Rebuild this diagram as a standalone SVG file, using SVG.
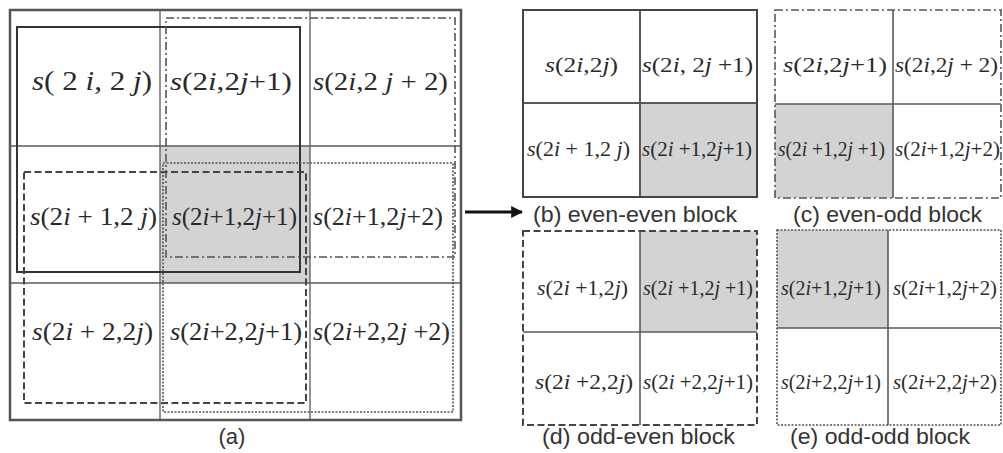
<svg xmlns="http://www.w3.org/2000/svg" width="1003" height="453" viewBox="0 0 1003 453">
<style>
.bg{fill:#ffffff}
.sh{fill:#d3d3d3}
.grid{stroke:#5a5a5a;stroke-width:1.3;fill:none}
.outer{stroke:#555;stroke-width:2.5;fill:none}
.solid{stroke:#333;stroke-width:2;fill:none}
.dash{stroke:#444;stroke-width:2;fill:none;stroke-dasharray:7 3.5}
.dashdot{stroke:#555;stroke-width:1.6;fill:none;stroke-dasharray:8 3 2 3}
.dot{stroke:#555;stroke-width:1.6;fill:none;stroke-dasharray:2 1.5}
.m{font-family:"Liberation Serif","Times New Roman",serif;fill:#2a2a2a}
.ma{font-size:25px}
.mb{font-size:20px}
.it{font-style:italic}
.cap{font-family:"Liberation Sans",Arial,sans-serif;font-size:22px;fill:#333}
</style>
<defs>
<marker id="ah" viewBox="0 0 10 10" refX="9" refY="5" markerWidth="4" markerHeight="4" orient="auto" markerUnits="strokeWidth">
<path d="M0,0 L10,5 L0,10 Z" fill="#111"/>
</marker>
</defs>
<rect class="bg" x="0" y="0" width="1003" height="453"/>

<g id="panel-a">
<rect class="sh" x="160" y="146" width="150" height="137"/>
<line class="grid" x1="160" y1="10" x2="160" y2="420"/>
<line class="grid" x1="310" y1="10" x2="310" y2="420"/>
<line class="grid" x1="10" y1="146" x2="461" y2="146"/>
<line class="grid" x1="10" y1="283" x2="461" y2="283"/>
<rect class="outer" x="10" y="10" width="451" height="410"/>
<rect class="solid" x="17" y="27" width="283" height="245"/>
<rect class="dashdot" x="166" y="18" width="289" height="239"/>
<rect class="dash" x="24" y="172" width="282" height="231"/>
<rect class="dot" x="163" y="163" width="290" height="249"/>
<g id="a-r0">
<text class="m ma" x="32" y="90" textLength="120" lengthAdjust="spacingAndGlyphs" style="font-size:27px"><tspan class="it">s</tspan>( 2 <tspan class="it">i</tspan>, 2 <tspan class="it">j</tspan>)</text>
<text class="m ma" x="170" y="90" textLength="122" lengthAdjust="spacingAndGlyphs"><tspan class="it">s</tspan>(2<tspan class="it">i</tspan>,2<tspan class="it">j</tspan>+1)</text>
<text class="m ma" x="313" y="90" textLength="135" lengthAdjust="spacingAndGlyphs"><tspan class="it">s</tspan>(2<tspan class="it">i</tspan>,2 <tspan class="it">j</tspan> + 2)</text>
</g>
<g id="a-r1">
<text class="m ma" x="30" y="225" textLength="127" lengthAdjust="spacingAndGlyphs"><tspan class="it">s</tspan>(2<tspan class="it">i</tspan> + 1,2 <tspan class="it">j</tspan>)</text>
<text class="m ma" x="172" y="225" textLength="125" lengthAdjust="spacingAndGlyphs"><tspan class="it">s</tspan>(2<tspan class="it">i</tspan>+1,2<tspan class="it">j</tspan>+1)</text>
<text class="m ma" x="313" y="225" textLength="130" lengthAdjust="spacingAndGlyphs"><tspan class="it">s</tspan>(2<tspan class="it">i</tspan>+1,2<tspan class="it">j</tspan>+2)</text>
</g>
<g id="a-r2">
<text class="m ma" x="32" y="340" textLength="121" lengthAdjust="spacingAndGlyphs"><tspan class="it">s</tspan>(2<tspan class="it">i</tspan> + 2,2<tspan class="it">j</tspan>)</text>
<text class="m ma" x="170" y="340" textLength="132" lengthAdjust="spacingAndGlyphs"><tspan class="it">s</tspan>(2<tspan class="it">i</tspan>+2,2<tspan class="it">j</tspan>+1)</text>
<text class="m ma" x="313" y="340" textLength="137" lengthAdjust="spacingAndGlyphs"><tspan class="it">s</tspan>(2<tspan class="it">i</tspan>+2,2<tspan class="it">j</tspan> +2)</text>
</g>
<text class="cap" x="232" y="444" text-anchor="middle">(a)</text>
</g>

<g id="connectors">
<line x1="465" y1="212" x2="522" y2="212" stroke="#111" stroke-width="3" marker-end="url(#ah)"/>
</g>

<g id="panel-b">
<rect class="sh" x="640" y="103" width="117" height="94"/>
<line class="grid" x1="640" y1="10" x2="640" y2="197" style="stroke-width:2"/>
<line class="grid" x1="523" y1="103" x2="757" y2="103" style="stroke-width:2"/>
<rect class="solid" x="523" y="10" width="234" height="187" style="stroke:#444"/>
<text class="m mb" x="545" y="72" textLength="73" lengthAdjust="spacingAndGlyphs"><tspan class="it">s</tspan>(2<tspan class="it">i</tspan>,2<tspan class="it">j</tspan>)</text>
<text class="m mb" x="642" y="72" textLength="111" lengthAdjust="spacingAndGlyphs"><tspan class="it">s</tspan>(2<tspan class="it">i</tspan>, 2<tspan class="it">j</tspan> +1)</text>
<text class="m mb" x="527" y="156" textLength="103" lengthAdjust="spacingAndGlyphs"><tspan class="it">s</tspan>(2<tspan class="it">i</tspan> + 1,2 <tspan class="it">j</tspan>)</text>
<text class="m mb" x="642" y="156" textLength="110" lengthAdjust="spacingAndGlyphs"><tspan class="it">s</tspan>(2<tspan class="it">i</tspan> +1,2<tspan class="it">j</tspan>+1)</text>
<text class="cap" x="533" y="222" textLength="204" lengthAdjust="spacingAndGlyphs">(b) even-even block</text>
</g>

<g id="panel-c">
<rect class="sh" x="775" y="104" width="118" height="94"/>
<line class="grid" x1="893" y1="10" x2="893" y2="198" style="stroke-width:1.6"/>
<line class="grid" x1="775" y1="104" x2="1001" y2="104" style="stroke-width:1.6"/>
<rect class="dashdot" x="775" y="10" width="226" height="188"/>
<text class="m mb" x="783" y="72" textLength="104" lengthAdjust="spacingAndGlyphs"><tspan class="it">s</tspan>(2<tspan class="it">i</tspan>,2<tspan class="it">j</tspan>+1)</text>
<text class="m mb" x="895" y="72" textLength="103" lengthAdjust="spacingAndGlyphs"><tspan class="it">s</tspan>(2<tspan class="it">i</tspan>,2<tspan class="it">j</tspan> + 2)</text>
<text class="m mb" x="778" y="156" textLength="107" lengthAdjust="spacingAndGlyphs"><tspan class="it">s</tspan>(2<tspan class="it">i</tspan> +1,2<tspan class="it">j</tspan> +1)</text>
<text class="m mb" x="895" y="156" textLength="105" lengthAdjust="spacingAndGlyphs"><tspan class="it">s</tspan>(2<tspan class="it">i</tspan>+1,2<tspan class="it">j</tspan>+2)</text>
<text class="cap" x="793" y="222" textLength="189" lengthAdjust="spacingAndGlyphs">(c) even-odd block</text>
</g>

<g id="panel-d">
<rect class="sh" x="640" y="231" width="117" height="101"/>
<line class="grid" x1="640" y1="231" x2="640" y2="425" style="stroke-width:1.6"/>
<line class="grid" x1="523" y1="332" x2="757" y2="332" style="stroke-width:1.6"/>
<rect class="dash" x="523" y="231" width="234" height="194"/>
<text class="m mb" x="537" y="295" textLength="91" lengthAdjust="spacingAndGlyphs"><tspan class="it">s</tspan>(2<tspan class="it">i</tspan> +1,2<tspan class="it">j</tspan>)</text>
<text class="m mb" x="643" y="295" textLength="110" lengthAdjust="spacingAndGlyphs"><tspan class="it">s</tspan>(2<tspan class="it">i</tspan> +1,2<tspan class="it">j</tspan> +1)</text>
<text class="m mb" x="535" y="389" textLength="98" lengthAdjust="spacingAndGlyphs"><tspan class="it">s</tspan>(2<tspan class="it">i</tspan> +2,2<tspan class="it">j</tspan>)</text>
<text class="m mb" x="643" y="389" textLength="110" lengthAdjust="spacingAndGlyphs"><tspan class="it">s</tspan>(2<tspan class="it">i</tspan> +2,2<tspan class="it">j</tspan>+1)</text>
<text class="cap" x="542" y="444" textLength="193" lengthAdjust="spacingAndGlyphs">(d) odd-even block</text>
</g>

<g id="panel-e">
<rect class="sh" x="777" y="230" width="111" height="98"/>
<line class="grid" x1="888" y1="230" x2="888" y2="425" style="stroke-width:1.6"/>
<line class="grid" x1="777" y1="328" x2="1001" y2="328" style="stroke-width:1.6"/>
<rect class="dot" x="777" y="230" width="224" height="195"/>
<text class="m mb" x="781" y="295" textLength="100" lengthAdjust="spacingAndGlyphs"><tspan class="it">s</tspan>(2<tspan class="it">i</tspan>+1,2<tspan class="it">j</tspan>+1)</text>
<text class="m mb" x="893" y="295" textLength="104" lengthAdjust="spacingAndGlyphs"><tspan class="it">s</tspan>(2<tspan class="it">i</tspan>+1,2<tspan class="it">j</tspan>+2)</text>
<text class="m mb" x="781" y="389" textLength="100" lengthAdjust="spacingAndGlyphs"><tspan class="it">s</tspan>(2<tspan class="it">i</tspan>+2,2<tspan class="it">j</tspan>+1)</text>
<text class="m mb" x="893" y="389" textLength="104" lengthAdjust="spacingAndGlyphs"><tspan class="it">s</tspan>(2<tspan class="it">i</tspan>+2,2<tspan class="it">j</tspan>+2)</text>
<text class="cap" x="790" y="444" textLength="180" lengthAdjust="spacingAndGlyphs">(e) odd-odd block</text>
</g>
</svg>
